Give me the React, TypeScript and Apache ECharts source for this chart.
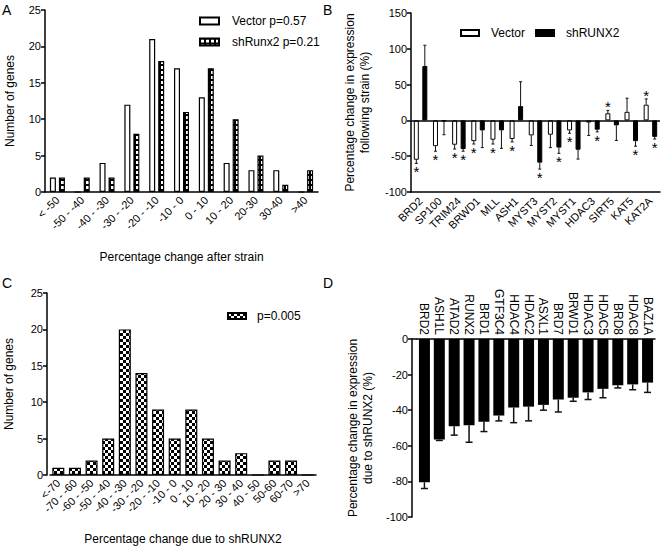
import React, { useEffect, useRef } from 'react';
import * as echarts from 'echarts';

const FONT = 'Liberation Sans, Arial, sans-serif';

// Panel A
const catsA = ['< -50', '-50 - -40', '-40 - -30', '-30 - -20', '-20 - -10', '-10 - 0', '0 - 10', '10 - 20', '20-30', '30-40', '>40'];
const vectorA = [2, 0, 4, 12, 21, 17, 13, 4, 3, 3, 0];
const shRunx2A = [2, 2, 2, 8, 18, 11, 17, 10, 5, 1, 3];

// Panel B
const catsB = ['BRD2', 'SP100', 'TRIM24', 'BRWD1', 'MLL', 'ASH1', 'MYST3', 'MYST2', 'MYST1', 'HDAC3', 'SIRT5', 'KAT5', 'KAT2A'];
const vectorB = [-55, -36, -34, -29, -27, -26, -21, -20, -14, -3, 10, 12, 22];
const vectorErrEndB = [-60, -43, -40, -33, -33, -30, -35, -38, -18, -21, 14, 31, 30];
const vectorSigB = [1, 1, 1, 1, 1, 1, 0, 0, 1, 0, 1, 0, 1];
const shB = [76, -1, -40, -14, -14, 20, -59, -38, -41, -13, -7, -29, -23];
const shErrEndB = [105, -20, -43, -38, -39, 54, -68, -46, -54, -16, -28, -36, -26];
const shSigB = [0, 0, 1, 0, 0, 0, 1, 1, 0, 1, 0, 1, 1];

// Panel C
const catsC = ['<-70', '-70 - -60', '-60 - -50', '-50 - -40', '-40 - -30', '-30 - -20', '-20 - -10', '-10 - 0', '0 - 10', '10 - 20', '20 - 30', '30 - 40', '40 - 50', '50-60', '60-70', '>70'];
const valC = [1, 1, 2, 5, 20, 14, 9, 5, 9, 5, 2, 3, 0, 2, 2, 0];

// Panel D
const catsD = ['BRD2', 'ASH1L', 'ATAD2', 'RUNX2', 'BRD1', 'GTF3C4', 'HDAC4', 'HDAC2', 'ASXL1', 'BRD7', 'BRWD1', 'HDAC3', 'HDAC5', 'BRD8', 'HDAC8', 'BAZ1A'];
const valD = [-80.5, -56.5, -49, -48.5, -46.5, -43, -38.5, -38, -37, -34, -33, -30, -28, -26, -25.5, -24.5];
const errEndD = [-84, -57, -54, -58, -52, -46, -47, -46, -40, -41, -35, -34, -33, -27.5, -28.5, -30];

function makeDots() {
  const c = document.createElement('canvas');
  c.width = 5; c.height = 5;
  const g = c.getContext('2d')!;
  g.fillStyle = '#000'; g.fillRect(0, 0, 5, 5);
  g.fillStyle = '#fff'; g.fillRect(1, 1, 3, 3);
  return c;
}
function makeChecker() {
  const c = document.createElement('canvas');
  c.width = 6; c.height = 6;
  const g = c.getContext('2d')!;
  g.fillStyle = '#000'; g.fillRect(0, 0, 6, 6);
  g.fillStyle = '#fff'; g.fillRect(0, 0, 3, 3); g.fillRect(3, 3, 3, 3);
  return c;
}

const lineSt = { color: '#000', width: 1.5 };
const nameTS = { fontSize: 12, color: '#000', fontFamily: FONT };

function errRender(offset: number, cap: number, lw: number, stars: boolean) {
  return (params: any, api: any) => {
    const i = api.value(0);
    const v = api.coord([i, api.value(1)]);
    const e = api.coord([i, api.value(2)]);
    const x = v[0] + offset;
    const children: any[] = [
      { type: 'line', shape: { x1: x, y1: v[1], x2: x, y2: e[1] }, style: { stroke: '#111', lineWidth: lw } },
      { type: 'line', shape: { x1: x - cap, y1: e[1], x2: x + cap, y2: e[1] }, style: { stroke: '#111', lineWidth: lw } },
    ];
    if (stars && api.value(3) === 1) {
      const neg = api.value(2) < 0;
      children.push({
        type: 'text', x: x, y: neg ? e[1] + 1 : e[1] + 4,
        style: { text: '*', fontSize: 15, fontFamily: FONT, fill: '#000', align: 'center', verticalAlign: neg ? 'top' : 'bottom' },
      });
    }
    return { type: 'group', children };
  };
}

export default function App() {
  const ref = useRef<HTMLDivElement>(null);
  useEffect(() => {
    if (!ref.current) return;
    const chart = echarts.init(ref.current, undefined, { renderer: 'svg' });
    const dots = { image: makeDots(), repeat: 'repeat' };
    const checker = { image: makeChecker(), repeat: 'repeat' };

    const option: any = {
      animation: false,
      textStyle: { fontFamily: FONT },
      grid: [
        { left: 45, top: 10, width: 273, height: 182 },
        { left: 411, top: 13, width: 249, height: 179 },
        { left: 50, top: 293, width: 266, height: 182 },
        { left: 417, top: 339, width: 238, height: 178 },
      ],
      legend: [
        {
          data: ['Vector p=0.57', 'shRunx2 p=0.21'], orient: 'vertical', left: 194, top: 10,
          icon: 'rect', itemWidth: 19, itemHeight: 7, itemGap: 9,
          textStyle: { fontSize: 12, color: '#000', fontFamily: FONT, padding: [0, 0, 0, 8] },
        },
        {
          data: ['Vector', 'shRUNX2'], orient: 'horizontal', left: 455, top: 22,
          icon: 'rect', itemWidth: 18, itemHeight: 6, itemGap: 10,
          textStyle: { fontSize: 12, color: '#000', fontFamily: FONT, padding: [0, 0, 0, 7] },
        },
        {
          data: ['p=0.005'], left: 222, top: 305,
          icon: 'rect', itemWidth: 18, itemHeight: 6,
          textStyle: { fontSize: 12, color: '#000', fontFamily: FONT, padding: [0, 0, 0, 6] },
        },
      ],
      xAxis: [
        {
          gridIndex: 0, type: 'category', data: catsA,
          axisLine: { onZero: false, lineStyle: lineSt },
          axisTick: { alignWithLabel: true, length: 4, lineStyle: lineSt },
          axisLabel: { rotate: 45, interval: 0, fontSize: 11, color: '#000', margin: 6, fontFamily: FONT },
          name: 'Percentage change after strain', nameLocation: 'middle', nameGap: 59, nameTextStyle: nameTS,
        },
        {
          gridIndex: 1, type: 'category', data: catsB,
          axisLine: { onZero: false, lineStyle: lineSt },
          axisTick: { alignWithLabel: true, length: 5, lineStyle: lineSt },
          axisLabel: { rotate: 45, interval: 0, fontSize: 11, color: '#000', margin: 7, fontFamily: FONT },
        },
        {
          gridIndex: 2, type: 'category', data: catsC,
          axisLine: { onZero: false, lineStyle: lineSt },
          axisTick: { alignWithLabel: true, length: 4, lineStyle: lineSt },
          axisLabel: { rotate: 45, interval: 0, fontSize: 11, color: '#000', margin: 6, fontFamily: FONT },
          name: 'Percentage change due to shRUNX2', nameLocation: 'middle', nameGap: 58, nameTextStyle: nameTS,
        },
        {
          gridIndex: 3, type: 'category', data: catsD, position: 'top', z: 10,
          axisLine: { onZero: false, lineStyle: lineSt },
          axisTick: { show: false },
          axisLabel: {
            rotate: 90, interval: 0, fontSize: 12, color: '#000', margin: 4, fontFamily: FONT,
            align: 'right', verticalAlign: 'middle',
          },
        },
      ],
      yAxis: [
        {
          gridIndex: 0, type: 'value', min: 0, max: 25, interval: 5,
          axisLine: { show: true, lineStyle: lineSt }, axisTick: { show: true, length: 4, lineStyle: lineSt },
          axisLabel: { fontSize: 11, color: '#000', margin: 4, fontFamily: FONT }, splitLine: { show: false },
          name: 'Number of genes', nameLocation: 'middle', nameRotate: 90, nameGap: 29, nameTextStyle: nameTS,
        },
        {
          gridIndex: 1, type: 'value', min: -100, max: 150, interval: 50,
          axisLine: { show: true, onZero: false, lineStyle: lineSt }, axisTick: { show: true, length: 4, lineStyle: lineSt },
          axisLabel: { fontSize: 11, color: '#000', margin: 4, fontFamily: FONT }, splitLine: { show: false },
          name: 'Percentage change in expression\nfollowing strain (%)', nameLocation: 'middle', nameRotate: 90, nameGap: 39,
          nameTextStyle: { ...nameTS, lineHeight: 15 },
        },
        {
          gridIndex: 2, type: 'value', min: 0, max: 25, interval: 5, offset: 3,
          axisLine: { show: true, lineStyle: lineSt }, axisTick: { show: true, length: 4, lineStyle: lineSt },
          axisLabel: { fontSize: 11, color: '#000', margin: 4, fontFamily: FONT }, splitLine: { show: false },
          name: 'Number of genes', nameLocation: 'middle', nameRotate: 90, nameGap: 32, nameTextStyle: nameTS,
        },
        {
          gridIndex: 3, type: 'value', min: -100, max: 0, interval: 20, offset: 5,
          axisLine: { show: true, onZero: false, lineStyle: lineSt }, axisTick: { show: true, length: 4, lineStyle: lineSt },
          axisLabel: { fontSize: 11, color: '#000', margin: 4, fontFamily: FONT }, splitLine: { show: false },
          name: 'Percentage change in expression\ndue to shRUNX2 (%)', nameLocation: 'middle', nameRotate: 90, nameGap: 37,
          nameTextStyle: { ...nameTS, lineHeight: 15 },
        },
      ],
      graphic: [
        { type: 'text', x: 2, y: 3, style: { text: 'A', fontSize: 14, fontFamily: FONT, fill: '#000' } },
        { type: 'text', x: 323, y: 3, style: { text: 'B', fontSize: 14, fontFamily: FONT, fill: '#000' } },
        { type: 'text', x: 2, y: 276, style: { text: 'C', fontSize: 14, fontFamily: FONT, fill: '#000' } },
        { type: 'text', x: 323, y: 276, style: { text: 'D', fontSize: 14, fontFamily: FONT, fill: '#000' } },
        { type: 'line', shape: { x1: 412, y1: 339, x2: 417, y2: 339 }, style: { stroke: '#000', lineWidth: 1.5 } },
      ],
      series: [
        {
          name: 'Vector p=0.57', type: 'bar', xAxisIndex: 0, yAxisIndex: 0, data: vectorA,
          barWidth: 6, barGap: '50%',
          itemStyle: { color: '#fff', borderColor: '#000', borderWidth: 1.2 },
        },
        {
          name: 'shRunx2 p=0.21', type: 'bar', xAxisIndex: 0, yAxisIndex: 0, data: shRunx2A,
          barWidth: 6,
          itemStyle: { color: dots, borderColor: '#000', borderWidth: 1.2 },
        },
        {
          name: 'Vector', type: 'bar', xAxisIndex: 1, yAxisIndex: 1, data: vectorB,
          barWidth: 5, barGap: '70%',
          itemStyle: { color: '#fff', borderColor: '#000', borderWidth: 1 },
          markLine: {
            silent: true, symbol: 'none', label: { show: false },
            lineStyle: { color: '#000', width: 1.5, type: 'solid' },
            data: [{ yAxis: 0 }],
          },
        },
        {
          name: 'shRUNX2', type: 'bar', xAxisIndex: 1, yAxisIndex: 1, data: shB,
          barWidth: 5,
          itemStyle: { color: '#000', borderColor: '#000', borderWidth: 1 },
        },
        {
          name: 'errVector', type: 'custom', xAxisIndex: 1, yAxisIndex: 1, z: 3,
          renderItem: errRender(-4.25, 1.5, 1, true),
          data: catsB.map((_, i) => [i, vectorB[i], vectorErrEndB[i], vectorSigB[i]]),
        },
        {
          name: 'errSh', type: 'custom', xAxisIndex: 1, yAxisIndex: 1, z: 3,
          renderItem: errRender(4.25, 1.5, 1, true),
          data: catsB.map((_, i) => [i, shB[i], shErrEndB[i], shSigB[i]]),
        },
        {
          name: 'p=0.005', type: 'bar', xAxisIndex: 2, yAxisIndex: 2, data: valC,
          barWidth: 12,
          itemStyle: { color: checker, borderColor: '#000', borderWidth: 1.2 },
        },
        {
          name: 'shRUNX2 effect', type: 'bar', xAxisIndex: 3, yAxisIndex: 3, data: valD,
          barWidth: 11,
          itemStyle: { color: '#000' },
        },
        {
          name: 'errD', type: 'custom', xAxisIndex: 3, yAxisIndex: 3, z: 3,
          renderItem: errRender(0, 3.5, 1.5, false),
          data: catsD.map((_, i) => [i, valD[i], errEndD[i], 0]),
        },
      ],
    };
    chart.setOption(option);
    return () => chart.dispose();
  }, []);
  return (
    <div
      ref={ref}
      style={{ position: 'fixed', left: 0, top: 0, width: 664, height: 548, background: '#fff' }}
    />
  );
}
